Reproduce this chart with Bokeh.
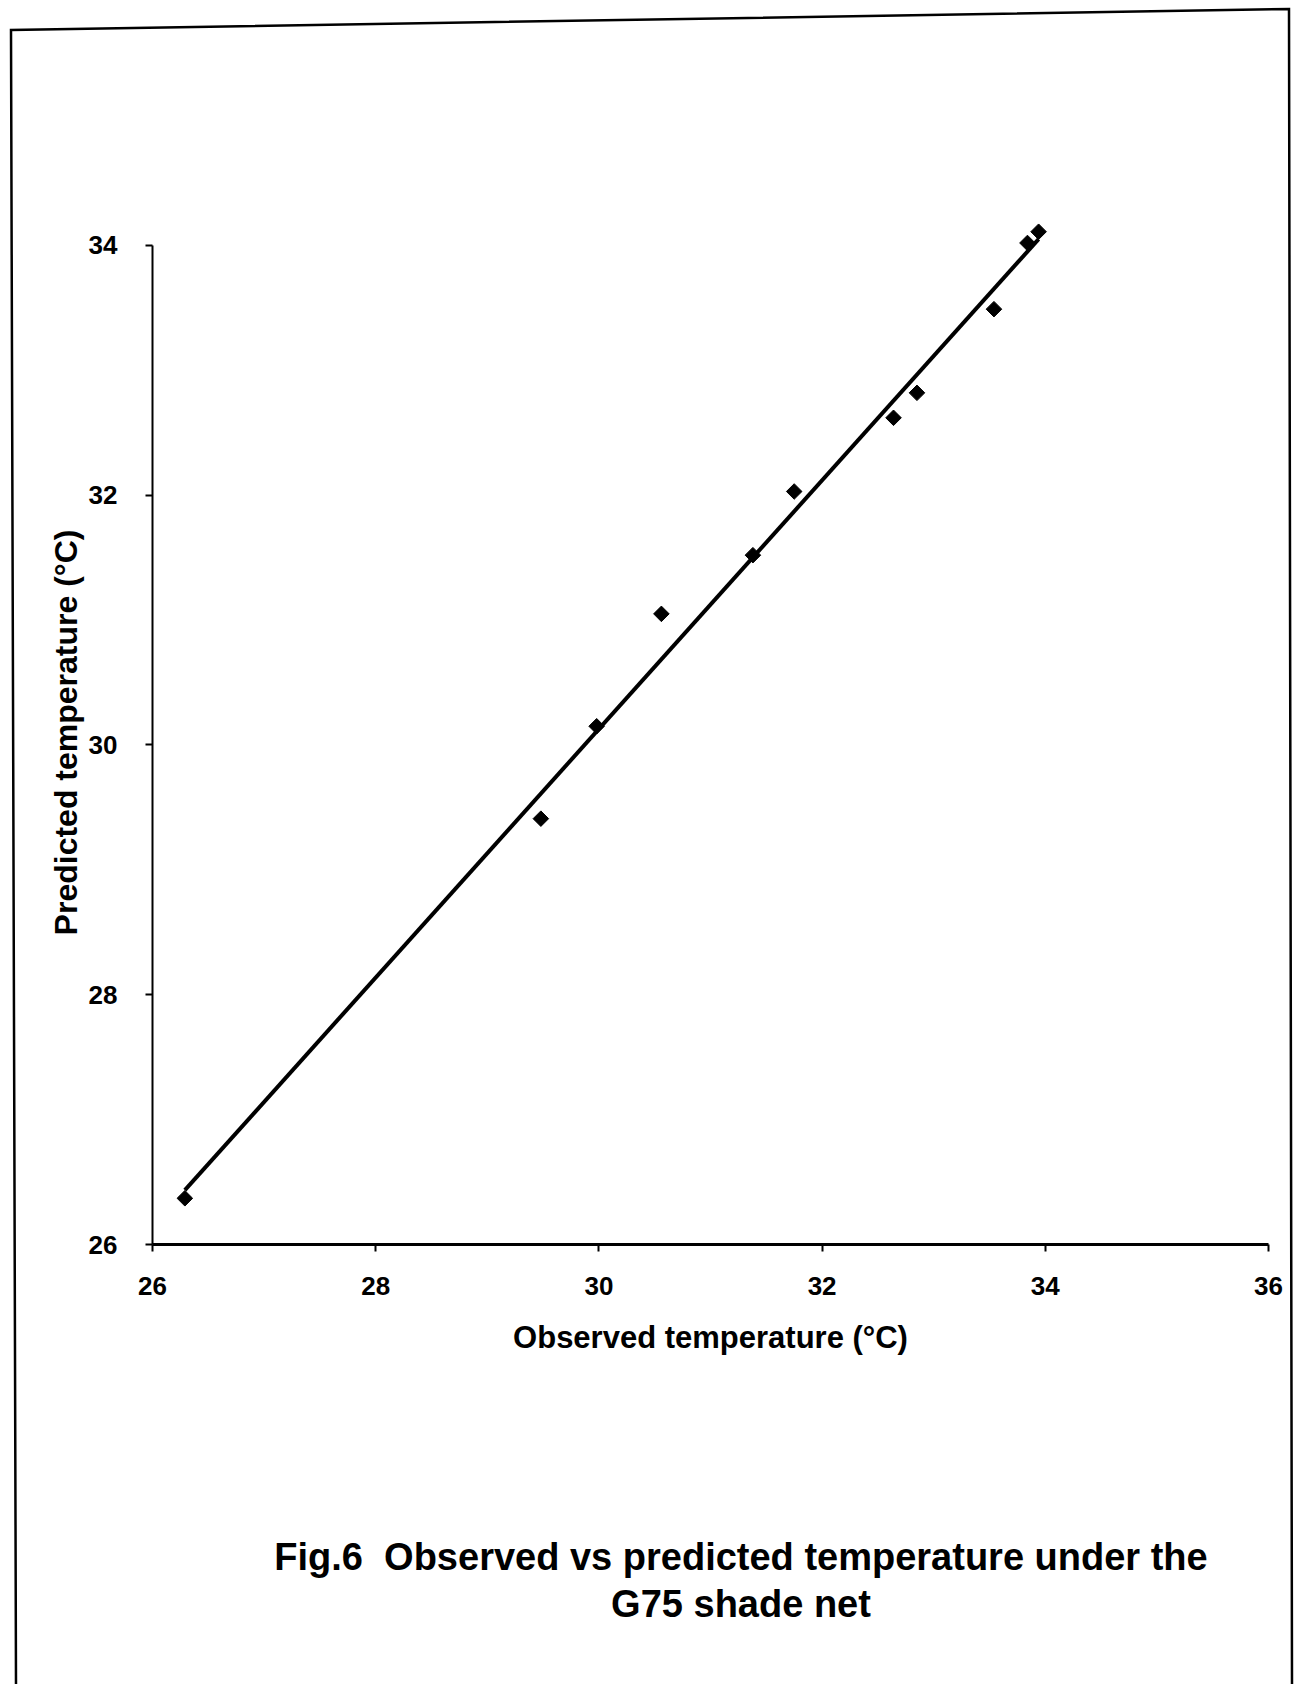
import numpy as np
from urllib.parse import quote
from bokeh.plotting import figure
from bokeh.layouts import column
from bokeh.models import Range1d, Div, InlineStyleSheet
from bokeh.embed import file_html
from bokeh.resources import INLINE

# Observed vs predicted air temperature (°C) under the G75 shade net
observed = [26.29, 29.48, 29.98, 30.56, 31.38, 31.75, 32.64, 32.85, 33.54, 33.84, 33.94]
predicted = [26.37, 29.41, 30.15, 31.05, 31.52, 32.03, 32.62, 32.82, 33.49, 34.02, 34.11]

x_ticks = [26, 28, 30, 32, 34, 36]
y_ticks = [26, 28, 30, 32, 34]

x_title = "Observed temperature (°C)"
y_title = "Predicted temperature (°C)"
caption_lines = ["Fig.6&nbsp; Observed vs predicted temperature under the", "G75 shade net"]

FONT = "Liberation Sans, Arial, sans-serif"
W, H = 1307, 1684
PLOT_H = 1400                                   # height of the chart itself
LEFT, RIGHT, TOP, BOTTOM = 152, 39, 220, 156    # space around the plotting frame

p = figure(
    width=W, height=PLOT_H,
    output_backend="svg", toolbar_location=None,
    x_range=Range1d(26, 36), y_range=Range1d(26, 34.2),
    min_border_left=LEFT, min_border_right=RIGHT,
    min_border_top=TOP, min_border_bottom=BOTTOM,
    background_fill_color="white", border_fill_color=None,
    margin=0,
)
p.outline_line_color = None
p.grid.visible = False

for ax, ticks in ((p.xaxis, x_ticks), (p.yaxis, y_ticks)):
    ax.ticker = ticks
    ax.bounds = (ticks[0], ticks[-1])
    ax.major_tick_in = 0
    ax.major_tick_out = 7
    ax.minor_tick_line_color = None
    ax.axis_line_color = "black"
    ax.major_tick_line_color = "black"
    ax.axis_line_width = 2
    ax.major_tick_line_width = 2
    ax.major_label_text_font = FONT
    ax.major_label_text_font_style = "bold"
    ax.major_label_text_font_size = "26px"
    ax.major_label_text_color = "black"
    ax.axis_label_text_font = FONT
    ax.axis_label_text_font_style = "bold"
    ax.axis_label_text_color = "black"

p.xaxis.axis_label = x_title
p.yaxis.axis_label = y_title
p.xaxis.axis_label_text_font_size = "31px"
p.yaxis.axis_label_text_font_size = "32px"
p.xaxis.axis_line_width = 3
p.xaxis.major_label_standoff = 25
p.yaxis.major_label_standoff = 28
p.xaxis.axis_label_standoff = 22
p.yaxis.axis_label_standoff = 2

# linear trend line through the points
coef = np.polyfit(observed, predicted, 1)
fit_x = [min(observed), max(observed)]
fit_y = list(np.polyval(coef, fit_x))
p.line(fit_x, fit_y, line_color="black", line_width=4)

# diamonds: squares turned by 45 degrees
p.scatter(observed, predicted, marker="square", angle=np.pi / 4, size=11,
          fill_color="black", line_color="black")

# caption block under the chart
caption = Div(
    text="<br>".join(caption_lines),
    width=W, height=H - PLOT_H, margin=0,
    styles={
        "font-family": FONT,
        "font-weight": "bold",
        "font-size": "38px",
        "line-height": "47px",
        "color": "black",
        "text-align": "center",
        "box-sizing": "border-box",
        "padding-left": "175px",
        "padding-top": "134px",
        "white-space": "nowrap",
    },
)

# page frame drawn behind the chart and caption
frame_svg = (
    f"<svg xmlns='http://www.w3.org/2000/svg' width='{W}' height='{H}'>"
    "<polyline points='16,1684 11,30 1289,9 1292,1684' fill='none' "
    "stroke='black' stroke-width='2.5'/></svg>"
)
page = column(p, caption, spacing=0, margin=0, width=W, height=H)
page.stylesheets = [InlineStyleSheet(css=(
    ":host { background-color: white; "
    f"background-image: url(\"data:image/svg+xml,{quote(frame_svg)}\"); "
    "background-repeat: no-repeat; background-position: 0 0; }"
))]

open("out.html", "w").write(file_html(page, INLINE))
